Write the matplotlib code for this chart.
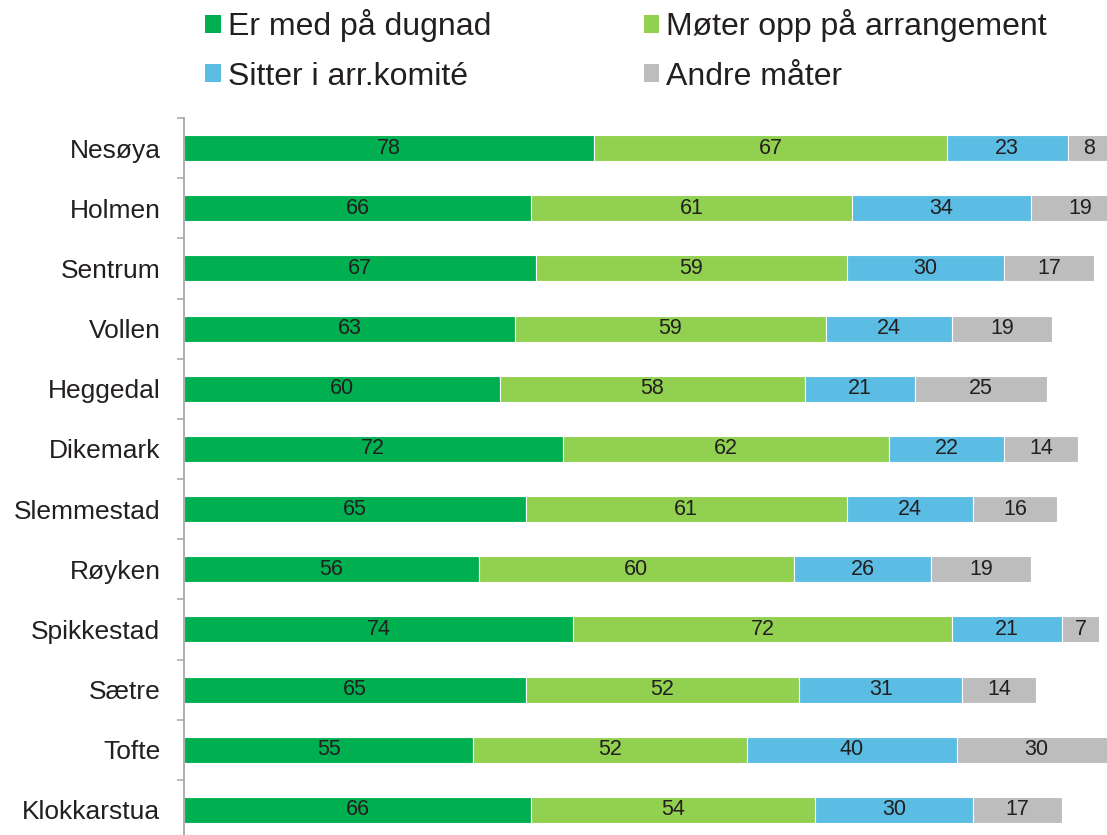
import matplotlib
matplotlib.use("Agg")
import matplotlib.pyplot as plt
import numpy as np

plt.rcParams['font.family'] = ['Liberation Sans', 'DejaVu Sans']

categories = ["Nesøya", "Holmen", "Sentrum", "Vollen", "Heggedal", "Dikemark",
              "Slemmestad", "Røyken", "Spikkestad", "Sætre", "Tofte", "Klokkarstua"]
series_names = ["Er med på dugnad", "Møter opp på arrangement",
                "Sitter i arr.komité", "Andre måter"]
dugnad = [78, 66, 67, 63, 60, 72, 65, 56, 74, 65, 55, 66]
moter = [67, 61, 59, 59, 58, 62, 61, 60, 72, 52, 52, 54]
komite = [23, 34, 30, 24, 21, 22, 24, 26, 21, 31, 40, 30]
andre = [8, 19, 17, 19, 25, 14, 16, 19, 7, 14, 30, 17]
colors = ["#00B050", "#92D050", "#5BBDE3", "#BCBDBC"]
text_color = "#231F20"

W, H = 1107, 835
fig = plt.figure(figsize=(W / 100, H / 100), dpi=100)
ax_left = 184 / W
ax_top = 118
ax_bottom = 840
ax = fig.add_axes([ax_left, (H - ax_bottom) / H, 1 - ax_left, (ax_bottom - ax_top) / H])

y = np.arange(len(categories))
left = np.zeros(len(categories))
handles = []
for vals, name, col in zip([dugnad, moter, komite, andre], series_names, colors):
    vals = np.array(vals, dtype=float)
    bars = ax.barh(y, vals, left=left, height=0.43, color=col, edgecolor="white",
                   linewidth=0.8, label=name)
    handles.append(bars)
    for yi, l, v in zip(y, left, vals):
        ax.text(l + v / 2, yi, f"{int(v)}", ha="center", va="center",
                fontsize=15.5, color=text_color)
    left += vals

ax.set_xlim(0, 175.5)
ax.set_ylim(len(categories) - 0.5, -0.5)
ax.set_yticks(y)
ax.set_yticklabels(categories, fontsize=19, color=text_color)
ax.set_yticks(np.arange(len(categories) + 1) - 0.5, minor=True)
ax.tick_params(axis="y", which="major", length=0, pad=17)
ax.tick_params(axis="y", which="minor", length=5, width=1.1, color="#A6A6A6", direction="out")
ax.set_xticks([])
for s in ["top", "right", "bottom"]:
    ax.spines[s].set_visible(False)
ax.spines["left"].set_color("#A6A6A6")
ax.spines["left"].set_linewidth(1.3)

order = [0, 2, 1, 3]
leg = fig.legend([handles[i] for i in order], [series_names[i] for i in order],
                 loc="upper left", bbox_to_anchor=(199 / W, 1 - 3 / H), ncol=2,
                 frameon=False, fontsize=23, handlelength=0.5, handleheight=0.5,
                 handletextpad=0.22, columnspacing=4.75, labelspacing=0.6,
                 borderpad=0.2, borderaxespad=0)
for t in leg.get_texts():
    t.set_color(text_color)
for h in leg.legend_handles:
    h.set_edgecolor("none")

fig.savefig("out.png", dpi=100)
